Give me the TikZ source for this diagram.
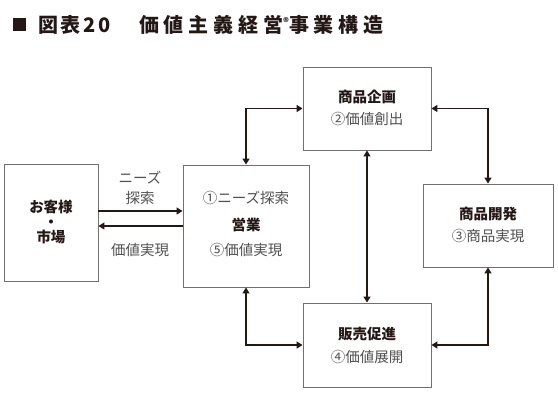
\documentclass[tikz,border=0pt]{standalone}
\usepackage{fontspec}
\setmainfont{Noto Sans CJK JP}
\newfontfamily\ttlfonta[LetterSpace=14]{Noto Sans CJK JP}
\newfontfamily\ttlfontb[LetterSpace=24]{Noto Sans CJK JP}
\usetikzlibrary{arrows.meta}
\definecolor{ink}{HTML}{231815}
\definecolor{boxgray}{HTML}{707070}
\definecolor{subgray}{HTML}{505050}
\tikzset{
  box/.style={draw=boxgray, line width=0.9pt, inner sep=0pt},
  conn/.style={draw=ink, line width=1.6pt, {Triangle[length=6pt,width=7pt]}-{Triangle[length=6pt,width=7pt]}},
  arr/.style={draw=ink, line width=1.6pt, -{Triangle[length=6pt,width=7pt]}},
  hd/.style={font=\fontsize{14.5}{16}\selectfont\bfseries, text=ink, inner sep=0pt},
  sub/.style={font=\fontsize{14.5}{16}\selectfont, text=subgray, inner sep=0pt},
  ttl/.style={anchor=west, inner sep=0pt, text=ink},
}
\begin{document}
\begin{tikzpicture}[x=1pt,y=-1pt]
\useasboundingbox (0,0) rectangle (558,402);
% title
\fill[ink] (13,18) rectangle (26,31);
\node[ttl, font=\fontsize{20}{22}\ttlfonta\bfseries] (ttl1) at (38,24.5) {図表20};
\node[ttl, font=\fontsize{20}{22}\ttlfontb\bfseries] (ttl2) at (139,24.5) {価値主義経営\raisebox{6pt}{\fontsize{11}{11}\selectfont ®}事業構造};
% boxes
\node[box, minimum width=94pt, minimum height=117pt] (cust) at (51,222.5) {};
\node[box, minimum width=126pt, minimum height=122pt] (sales) at (246,226) {};
\node[box, minimum width=128pt, minimum height=83pt] (plan) at (367,108.5) {};
\node[box, minimum width=130pt, minimum height=83pt] (dev) at (488,225.5) {};
\node[box, minimum width=128pt, minimum height=84pt] (promo) at (367,345) {};
% box texts
\node[hd, align=center, font=\fontsize{14.5}{15}\selectfont\bfseries] (c1) at (51,222) {お客様\\・\\市場};
\node[sub] (s1) at (246,198) {①ニーズ探索};
\node[hd] (s2) at (246,225) {営業};
\node[sub] (s3) at (246,250) {⑤価値実現};
\node[hd] (p1) at (367,97) {商品企画};
\node[sub] (p2) at (367,119) {②価値創出};
\node[hd] (d1) at (488,214) {商品開発};
\node[sub] (d2) at (488,236) {③商品実現};
\node[hd] (m1) at (367,334) {販売促進};
\node[sub] (m2) at (367,357) {④価値展開};
% connectors
\draw[conn] (sales.north) |- (plan.west);
\draw[conn] (plan.east) -| (dev.north);
\draw[conn] (plan.south) -- (promo.north);
\draw[conn] (sales.south) |- (promo.west);
\draw[conn] (promo.east) -| (dev.south);
\coordinate (ya) at (0,211);
\coordinate (yb) at (0,226);
\draw[arr] (cust.east |- ya) -- (sales.west |- ya);
\draw[arr] (sales.west |- yb) -- (cust.east |- yb);
% arrow labels
\node[sub] (l1) at (140,178) {ニーズ};
\node[sub] (l2) at (140,198) {探索};
\node[sub] (l3) at (140,250) {価値実現};
\end{tikzpicture}
\end{document}
